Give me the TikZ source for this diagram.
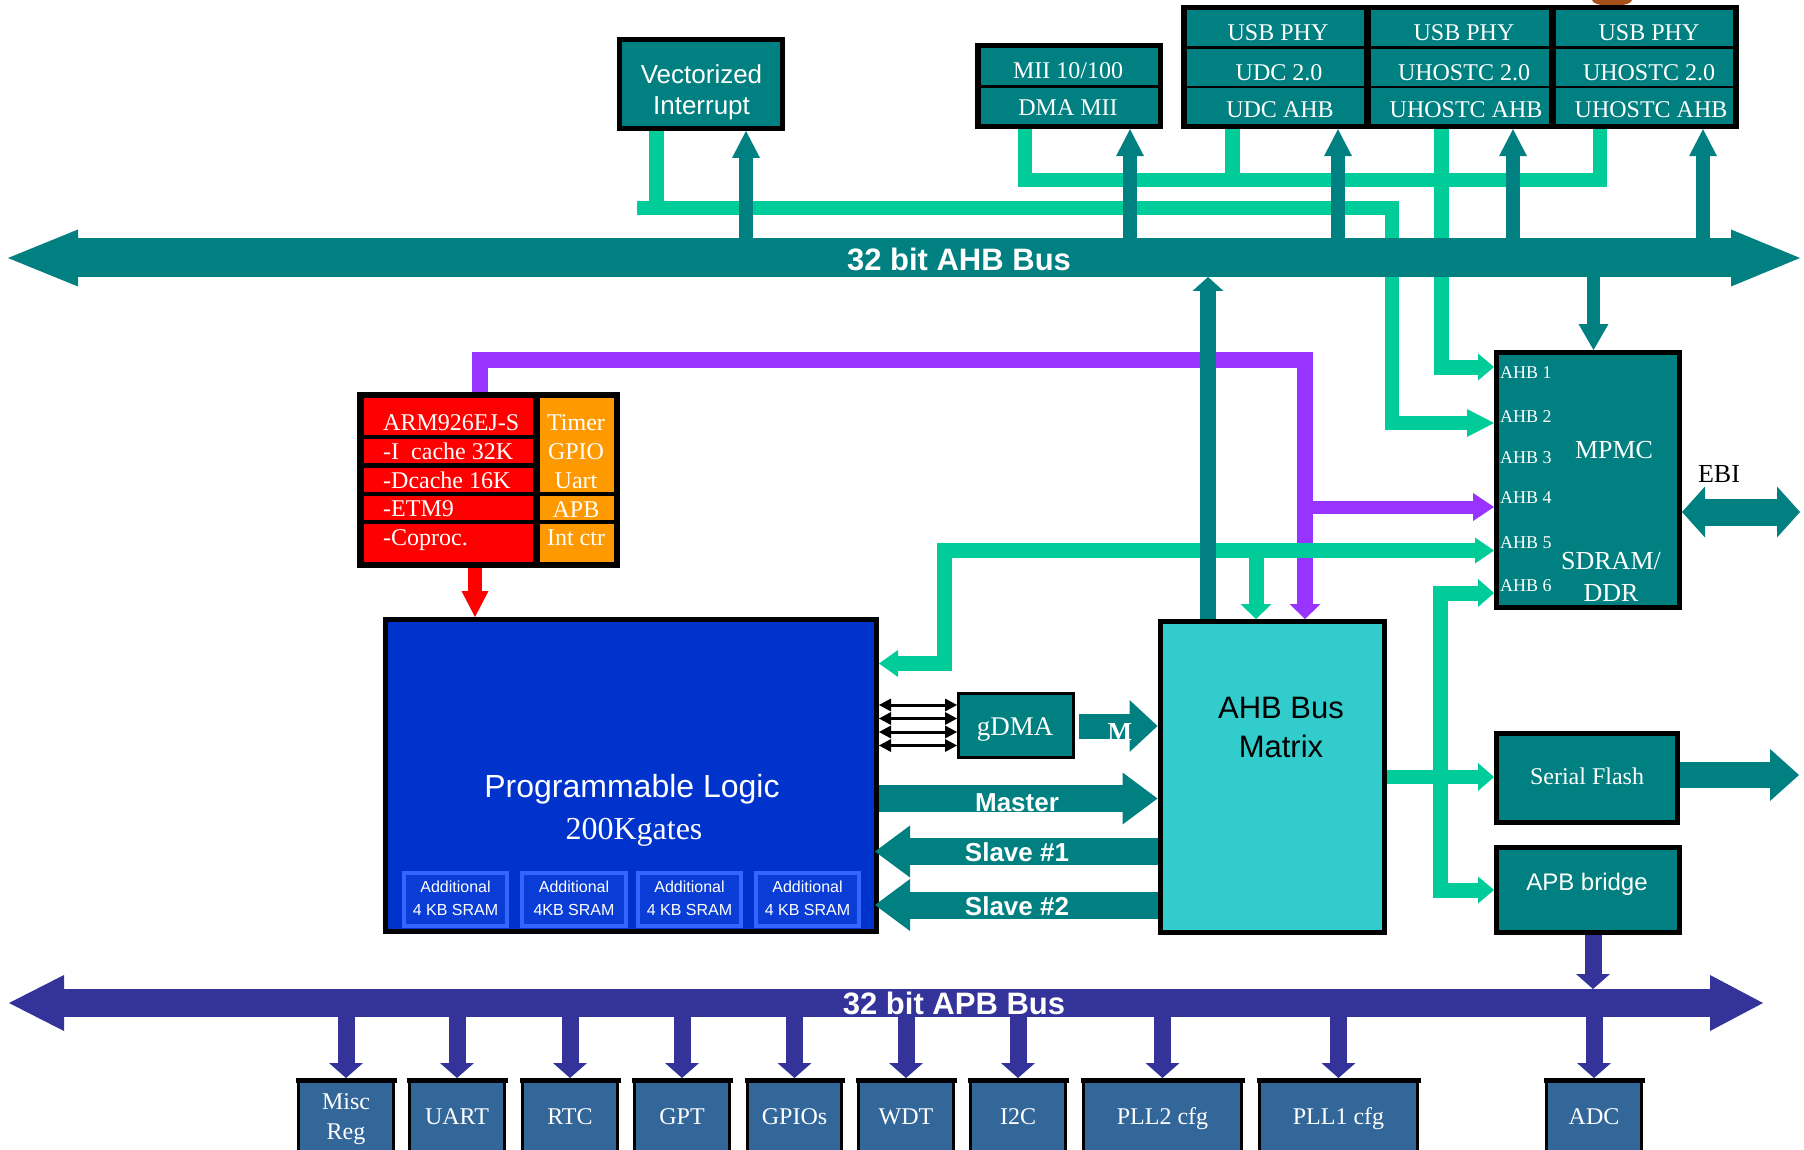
\documentclass[tikz,border=0pt]{standalone}
\usepackage{fontspec}
\setmainfont{Liberation Serif}
\newfontfamily\arial{Liberation Sans}
\usetikzlibrary{arrows.meta}
\definecolor{tealc}{HTML}{008080}
\definecolor{grn}{HTML}{00CC99}
\definecolor{purp}{HTML}{9933FF}
\definecolor{apbc}{HTML}{333399}
\definecolor{botc}{HTML}{336699}
\definecolor{plblue}{HTML}{0033CC}
\definecolor{sramb}{HTML}{3366FF}
\definecolor{sramf}{HTML}{0A3CD6}
\definecolor{matc}{HTML}{33CCCC}
\definecolor{orng}{HTML}{FF9900}
\definecolor{blob}{HTML}{A8501A}
\tikzset{
  bx/.style={draw=black, line width=5pt, fill=tealc, inner sep=0pt},
  botbx/.style={draw=black, line width=3pt, fill=botc, inner sep=0pt},
  srambx/.style={draw=sramb, line width=4pt, fill=sramf, inner sep=0pt, minimum height=53},
  gl/.style={draw=grn, line width=15pt, line join=miter},
  ta/.style={draw=tealc, line width=14pt, -{Triangle[width=28pt,length=27pt,line width=0pt]}},
  ap/.style={draw=apbc, line width=17pt, -{Triangle[width=34pt,length=15pt,line width=0pt]}},
  T24/.style={inner sep=0pt, text=white, text depth=0pt, text height=15.9pt, font=\fontsize{24}{24}\selectfont},
  T26/.style={inner sep=0pt, text=white, text depth=0pt, text height=17.2pt, font=\fontsize{26}{26}\selectfont},
  T18/.style={inner sep=0pt, text=white, text depth=0pt, text height=11.9pt, font=\fontsize{18}{18}\selectfont},
  T27/.style={inner sep=0pt, text=white, text depth=0pt, text height=17.9pt, font=\fontsize{27}{27}\selectfont},
  T32/.style={inner sep=0pt, text=white, text depth=0pt, text height=21.2pt, font=\fontsize{32}{32}\selectfont},
  A26/.style={inner sep=0pt, text=white, text depth=0pt, text height=18.6pt, font=\arial\fontsize{26}{26}\selectfont},
  A32/.style={inner sep=0pt, text=white, text depth=0pt, text height=22.9pt, font=\arial\fontsize{32}{32}\selectfont},
  A31/.style={inner sep=0pt, text=white, text depth=0pt, text height=22.2pt, font=\arial\fontsize{31}{31}\selectfont},
  A16/.style={inner sep=0pt, text=white, text depth=0pt, text height=11.5pt, font=\arial\fontsize{16}{16}\selectfont},
  A24/.style={inner sep=0pt, text=white, text depth=0pt, text height=17.2pt, font=\arial\fontsize{24}{24}\selectfont},
  AB31/.style={inner sep=0pt, text=white, text depth=0pt, text height=22.2pt, font=\arial\bfseries\fontsize{31}{31}\selectfont},
  AB26/.style={inner sep=0pt, text=white, text depth=0pt, text height=18.6pt, font=\arial\bfseries\fontsize{26}{26}\selectfont},
}
\begin{document}
\begin{tikzpicture}[x=1pt,y=-1pt]
\useasboundingbox (0,0) rectangle (1804,1150);
\fill[white] (0,0) rectangle (1804,1150);
\fill[blob] (1612,0) ellipse (20 and 6);

% ---------------- boxes ----------------
\node[bx, minimum width=163, minimum height=89] (vi) at (701,84) {};
\node[fill=black, inner sep=0pt, minimum width=188, minimum height=86] (mii) at (1069,86) {};
\fill[tealc] (981,48) rectangle (1158,85);
\fill[tealc] (981,88) rectangle (1158,124);
\node[fill=black, inner sep=0pt, minimum width=558, minimum height=124] (usb) at (1460,67) {};
\foreach \xa/\xb in {1187/1364,1371/1549,1556/1733}
  \foreach \ya/\yb in {10/46,49/86,88/124}
    \fill[tealc] (\xa,\ya) rectangle (\xb,\yb);
\node[fill=black, inner sep=0pt, minimum width=263, minimum height=176] (arm) at (488.5,480) {};
\foreach \ya/\yb in {398/435,439/463,468/492,496/520,524/562}
  \fill[red] (364,\ya) rectangle (533,\yb);
\foreach \ya/\yb in {398/492,496/520,524/562}
  \fill[orng] (540,\ya) rectangle (614,\yb);
\node[bx, fill=plblue, minimum width=491, minimum height=312] (pl) at (631,775.5) {};
\node[srambx, minimum width=103] (s1) at (455.5,899.5) {};
\node[srambx, minimum width=104] (s2) at (574,899.5) {};
\node[srambx, minimum width=103] (s3) at (689.5,899.5) {};
\node[srambx, minimum width=103] (s4) at (807.5,899.5) {};
\node[bx, line width=3pt, minimum width=115, minimum height=64] (gdma) at (1016,725.5) {};
\node[bx, fill=matc, minimum width=224.5, minimum height=311] (mat) at (1272.25,777) {};
\node[bx, minimum width=183, minimum height=255] (mpmc) at (1588,480) {};
\node[bx, minimum width=181, minimum height=89] (sf) at (1587,778) {};
\node[bx, minimum width=183, minimum height=85] (apbb) at (1588,890) {};
\node[botbx, minimum width=95, minimum height=77] (misc) at (346,1118) {};
\node[botbx, minimum width=95, minimum height=77] (uart) at (457,1118) {};
\node[botbx, minimum width=95, minimum height=77] (rtc) at (570,1118) {};
\node[botbx, minimum width=95, minimum height=77] (gpt) at (682,1118) {};
\node[botbx, minimum width=94, minimum height=77] (gpios) at (794.5,1118) {};
\node[botbx, minimum width=95, minimum height=77] (wdt) at (906,1118) {};
\node[botbx, minimum width=95, minimum height=77] (itc) at (1018,1118) {};
\node[botbx, minimum width=158, minimum height=77] (pll2) at (1162.5,1118) {};
\node[botbx, minimum width=158, minimum height=77] (pll1) at (1338.5,1118) {};
\node[botbx, minimum width=95, minimum height=77] (adc) at (1594,1118) {};
\foreach \n in {misc,uart,rtc,gpt,gpios,wdt,itc,pll2,pll1,adc}
  \fill[black] ([xshift=-1.5pt]\n.north west) rectangle ([xshift=1.5pt,yshift=-5pt]\n.north east);

% ---------------- purple ----------------
\draw[purp, line width=16pt, line join=miter, -{Triangle[width=31pt,length=15pt,line width=0pt]}]
  (arm.north -| 480,0) -- (480,359.5) -- (1305,359.5) -- (mat.north -| 1305,0);
\draw[purp, line width=13pt, -{Triangle[width=28pt,length=21pt,line width=0pt]}]
  (1305,507) -- (mpmc.west |- 0,507);

% ---------------- green ----------------
\draw[gl] (vi.south -| 656,0) -- (656,208);
\draw[gl, line width=14pt, -{Triangle[width=28pt,length=27pt,line width=0pt]}]
  (637,208) -- (1392,208) -- (1392,423) -- (mpmc.west |- 0,423);
\draw[gl, line width=14pt] (mii.south -| 1025,0) -- (1025,180) -- (1600,180) -- (usb.south -| 1600,0);
\draw[gl] (usb.south -| 1232,0) -- (1232,180);
\draw[gl, -{Triangle[width=27pt,length=16pt,line width=0pt]}]
  (usb.south -| 1441,0) -- (1441,367) -- (mpmc.west |- 0,367);
\draw[gl, {Triangle[width=27pt,length=19pt,line width=0pt]}-{Triangle[width=26pt,length=19pt,line width=0pt]}]
  (pl.east |- 0,663.5) -- (944,663.5) -- (944,550.5) -- (mpmc.west |- 0,550.5);
\draw[gl, -{Triangle[width=31pt,length=15pt,line width=0pt]}] (1256,550.5) -- (mat.north -| 1256,0);
\draw[gl, line width=14pt, -{Triangle[width=28pt,length=16pt,line width=0pt]}] (mat.east |- 0,777) -- (sf.west |- 0,777);
\draw[gl, {Triangle[width=28pt,length=16pt,line width=0pt]}-{Triangle[width=27pt,length=16pt,line width=0pt]}]
  (mpmc.west |- 0,593) -- (1440,593) -- (1440,890) -- (apbb.west |- 0,890);

% ---------------- red ----------------
\draw[red, line width=14pt, -{Triangle[width=27pt,length=26pt,line width=0pt]}] (arm.south -| 475,0) -- (pl.north -| 475,0);

% ---------------- teal arrows ----------------
\draw[ta] (746,250) -- (vi.south -| 746,0);
\draw[ta] (1130,250) -- (mii.south -| 1130,0);
\draw[ta] (1338,250) -- (usb.south -| 1338,0);
\draw[ta] (1513,250) -- (usb.south -| 1513,0);
\draw[ta] (1703,250) -- (usb.south -| 1703,0);
\draw[tealc, line width=16pt, -{Triangle[width=31pt,length=14pt,line width=0pt]}] (mat.north -| 1208,0) -- (1208,277);
\draw[tealc, line width=13pt, -{Triangle[width=30pt,length=26pt,line width=0pt]}] (1593.5,265) -- (mpmc.north -| 1593.5,0);
\draw[tealc, line width=25pt, -{Triangle[width=52pt,length=28pt,line width=0pt]}] (1079,726) -- (mat.west |- 0,726);
\draw[tealc, line width=27pt, -{Triangle[width=52pt,length=35pt,line width=0pt]}] (pl.east |- 0,798.5) -- (mat.west |- 0,798.5);
\draw[tealc, line width=27pt, {Triangle[width=52pt,length=35pt,line width=0pt]}-] (875,851.5) -- (mat.west |- 0,851.5);
\draw[tealc, line width=27pt, {Triangle[width=52pt,length=35pt,line width=0pt]}-] (875,905) -- (mat.west |- 0,905);
\draw[tealc, line width=26pt, -{Triangle[width=52pt,length=29pt,line width=0pt]}] (sf.east |- 0,775) -- (1799,775);
\draw[tealc, line width=27pt, {Triangle[width=51pt,length=23pt,line width=0pt]}-{Triangle[width=51pt,length=23pt,line width=0pt]}]
  (mpmc.east |- 0,512) -- (1800,512);
\draw[tealc, line width=39pt, {Triangle[width=57pt,length=70pt,line width=0pt]}-{Triangle[width=57pt,length=69pt,line width=0pt]}]
  (8,258) -- (1800,258);

% ---------------- gDMA links ----------------
\foreach \yy in {705,718.5,732,745.5}
  \draw[black, line width=3pt, {Triangle[width=13pt,length=12pt,line width=0pt]}-{Triangle[width=13pt,length=12pt,line width=0pt]}]
    (pl.east |- 0,\yy) -- (gdma.west |- 0,\yy);

% ---------------- APB ----------------
\draw[ap] (apbb.south -| 1593,0) -- (1593,989);
\foreach \n in {misc,uart,rtc,gpt,gpios,wdt,itc,pll2,pll1,adc}
  \draw[ap] (\n.north |- 0,1010) -- (\n.north);
\draw[apbc, line width=28pt, {Triangle[width=56pt,length=55pt,line width=0pt]}-{Triangle[width=56pt,length=53pt,line width=0pt]}]
  (9,1003) -- (1763,1003);

% ---------------- texts ----------------
\node[A26] (t1) at (701.5,74) {Vectorized};
\node[A26] (t2) at (701.5,105.5) {Interrupt};
\node[T24] (t3) at (1068,71) {MII 10/100};
\node[T24] (t4) at (1068,108) {DMA MII};
\node[T24] (u1) at (1278,32.5) {USB PHY};
\node[T24] (u2) at (1464,32.5) {USB PHY};
\node[T24] (u3) at (1649,32.5) {USB PHY};
\node[T24] (u4) at (1279,73) {UDC 2.0};
\node[T24] (u5) at (1464,73) {UHOSTC 2.0};
\node[T24] (u6) at (1649,73) {UHOSTC 2.0};
\node[T24] (u7) at (1280,109.5) {UDC AHB};
\node[T24] (u8) at (1466,109.5) {UHOSTC AHB};
\node[T24] (u9) at (1651,109.5) {UHOSTC AHB};
\node[T24, anchor=west] (r1) at (383,423) {ARM926EJ-S};
\node[T24, anchor=west] (r2) at (383,452) {-I\ \ cache 32K};
\node[T24, anchor=west] (r3) at (383,481) {-Dcache 16K};
\node[T24, anchor=west] (r4) at (383,509) {-ETM9};
\node[T24, anchor=west] (r5) at (383,538) {-Coproc.};
\node[T24] (o1) at (576,423) {Timer};
\node[T24] (o2) at (576,452) {GPIO};
\node[T24] (o3) at (576,481) {Uart};
\node[T24] (o4) at (576,510) {APB};
\node[T24] (o5) at (576,538) {Int ctr};
\node[A32] (p1) at (632,786) {Programmable Logic};
\node[T32] (p2) at (634,829) {200Kgates};
\node[A16] (s1a) at (455.5,887) {Additional};
\node[A16] (s1b) at (455.5,909.5) {4 KB SRAM};
\node[A16] (s2a) at (574,887) {Additional};
\node[A16] (s2b) at (574,909.5) {4KB SRAM};
\node[A16] (s3a) at (689.5,887) {Additional};
\node[A16] (s3b) at (689.5,909.5) {4 KB SRAM};
\node[A16] (s4a) at (807.5,887) {Additional};
\node[A16] (s4b) at (807.5,909.5) {4 KB SRAM};
\node[T27] (g1) at (1015,727) {gDMA};
\node[T26, font=\bfseries\fontsize{26}{26}\selectfont] (m1) at (1120,732) {M};
\node[AB26] (ma) at (1017,802) {Master};
\node[AB26] (sl1) at (1017,852) {Slave \#1};
\node[AB26] (sl2) at (1017,906) {Slave \#2};
\node[A31, text=black] (x1) at (1281,707) {AHB Bus};
\node[A31, text=black] (x2) at (1281,746) {Matrix};
\node[T18, anchor=west] (h1) at (1500,373) {AHB 1};
\node[T18, anchor=west] (h2) at (1500,417) {AHB 2};
\node[T18, anchor=west] (h3) at (1500,458) {AHB 3};
\node[T18, anchor=west] (h4) at (1500,498) {AHB 4};
\node[T18, anchor=west] (h5) at (1500,543) {AHB 5};
\node[T18, anchor=west] (h6) at (1500,586) {AHB 6};
\node[T26] (mp1) at (1614,450) {MPMC};
\node[T26] (mp2) at (1611,561) {SDRAM/};
\node[T26] (mp3) at (1611,593) {DDR};
\node[T26, text=black] (ebi) at (1719,474) {EBI};
\node[T24] (sft) at (1587,777) {Serial Flash};
\node[A24] (apt) at (1587,882) {APB bridge};
\node[AB31] (ahbt) at (959,259) {32 bit AHB Bus};
\node[AB31] (apbt) at (954,1003) {32 bit APB Bus};
\node[T24] (b1a) at (346,1102) {Misc};
\node[T24] (b1b) at (346,1132) {Reg};
\node[T24] (b2) at (457,1117) {UART};
\node[T24] (b3) at (570,1117) {RTC};
\node[T24] (b4) at (682,1117) {GPT};
\node[T24] (b5) at (794.5,1117) {GPIOs};
\node[T24] (b6) at (906,1117) {WDT};
\node[T24] (b7) at (1018,1117) {I2C};
\node[T24] (b8) at (1162.5,1117) {PLL2 cfg};
\node[T24] (b9) at (1338.5,1117) {PLL1 cfg};
\node[T24] (b10) at (1594,1117) {ADC};
\end{tikzpicture}
\end{document}
